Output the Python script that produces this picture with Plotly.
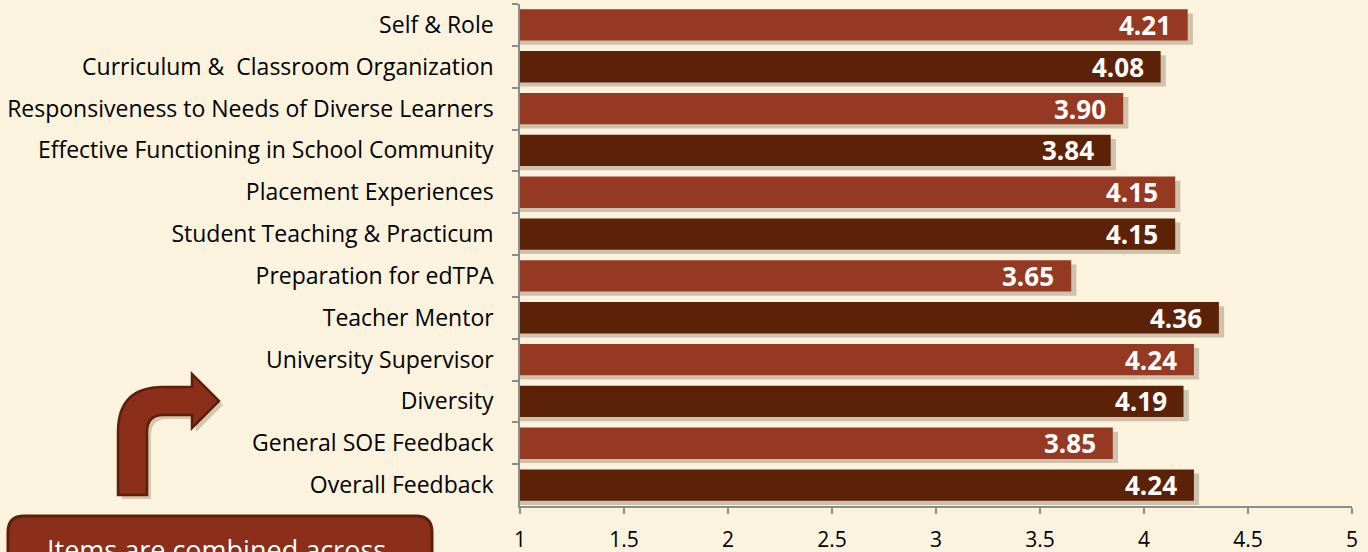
import plotly.graph_objects as go

categories = [
    "Self & Role",
    "Curriculum &\u00a0 Classroom Organization",
    "Responsiveness to Needs of Diverse Learners",
    "Effective Functioning in School Community",
    "Placement Experiences",
    "Student Teaching & Practicum",
    "Preparation for edTPA",
    "Teacher Mentor",
    "University Supervisor",
    "Diversity",
    "General SOE Feedback",
    "Overall Feedback",
]
values = [4.21, 4.08, 3.90, 3.84, 4.15, 4.15, 3.65, 4.36, 4.24, 4.19, 3.85, 4.24]
x_ticks = [1, 1.5, 2, 2.5, 3, 3.5, 4, 4.5, 5]
x_tick_labels = ["1", "1.5", "2", "2.5", "3", "3.5", "4", "4.5", "5"]
note_text = "Items are combined across"

LIGHT = "#963922"
DARK = "#5C2207"
BG = "#FCF3DE"
FONT = "Open Sans"

W, H = 1368, 552
ML, MR, MT, MB = 520, 16, 4, 46
PW, PH = W - ML - MR, H - MT - MB


def px(x):
    return (x - ML) / PW


def py(y):
    return (H - MB - y) / PH


colors = [LIGHT if i % 2 == 0 else DARK for i in range(len(categories))]

fig = go.Figure()
# soft drop shadow
fig.add_trace(go.Bar(
    y=categories, x=[v + 0.025 for v in values], orientation="h",
    marker=dict(color="rgba(90,70,45,0.28)", line=dict(width=0)),
    width=0.75, offset=-0.375 + 0.1, hoverinfo="skip", showlegend=False,
))
fig.add_trace(go.Bar(
    y=categories, x=values, orientation="h",
    marker=dict(color=colors, line=dict(width=0)),
    width=0.75, offset=-0.375, showlegend=False,
))

for c, v in zip(categories, values):
    fig.add_annotation(
        x=v, y=c, xref="x", yref="y", text=f"<b>{v:.2f}</b>",
        showarrow=False, xanchor="right", yanchor="middle", xshift=-15,
        font=dict(family=FONT, size=26, color="white"),
    )

# bent arrow (pixel path converted to paper coords)
arrow_pts = [
    ("M", [(118, 495)]), ("L", [(118, 432)]), ("Q", [(118, 387), (163, 387)]),
    ("L", [(192, 387)]), ("L", [(192, 374)]), ("L", [(219, 401)]),
    ("L", [(192, 428)]), ("L", [(192, 415)]), ("L", [(163, 415)]),
    ("Q", [(147, 415), (147, 432)]), ("L", [(147, 495)]),
]


def make_path(pts, dx=0, dy=0):
    s = ""
    for cmd, ps in pts:
        s += cmd + " " + " ".join(f"{px(a + dx):.5f},{py(b + dy):.5f}" for a, b in ps) + " "
    return s + "Z"


fig.add_shape(type="path", xref="paper", yref="paper", path=make_path(arrow_pts, 4, 4),
              fillcolor="rgba(90,70,45,0.25)", line=dict(width=0), layer="below")
fig.add_shape(type="path", xref="paper", yref="paper", path=make_path(arrow_pts),
              fillcolor="#8B2E1A", line=dict(color="#5C1F08", width=2.5))

# rounded note box
x0, y0, x1, y1, r = 8, 516, 432, 575, 16
box = [
    ("M", [(x0 + r, y0)]), ("L", [(x1 - r, y0)]), ("Q", [(x1, y0), (x1, y0 + r)]),
    ("L", [(x1, y1)]), ("L", [(x0, y1)]), ("L", [(x0, y0 + r)]),
    ("Q", [(x0, y0), (x0 + r, y0)]),
]
fig.add_shape(type="path", xref="paper", yref="paper", path=make_path(box),
              fillcolor="#8B2E1A", line=dict(color="#5C1F08", width=3))
fig.add_annotation(x=px(216), y=py(549), xref="paper", yref="paper", text=note_text,
                   showarrow=False, xanchor="center", yanchor="middle",
                   font=dict(family=FONT, size=27, color="white"))

fig.update_layout(
    width=W, height=H, margin=dict(l=ML, r=MR, t=MT, b=MB, pad=0, autoexpand=False),
    paper_bgcolor=BG, plot_bgcolor=BG, barmode="overlay", bargap=0.25,
    showlegend=False,
    font=dict(family=FONT, color="black"),
)
fig.update_xaxes(
    range=[1, 5], tickvals=x_ticks, ticktext=x_tick_labels, showgrid=False, zeroline=False,
    showline=True, linecolor="#8C8C8C", linewidth=1.5, ticks="outside", ticklen=6,
    tickcolor="#8C8C8C", tickwidth=1.5, tickfont=dict(size=21, color="black"),
    ticklabelstandoff=8, automargin=False,
)
fig.update_yaxes(
    autorange="reversed", showgrid=False, showline=True, linecolor="#8C8C8C", linewidth=1.5,
    ticks="outside", ticklen=6, tickcolor="#8C8C8C", tickwidth=1.5, tickson="boundaries",
    tickfont=dict(size=23, color="black"), ticklabelstandoff=20, automargin=False,
)

fig.write_html(
    "out.html",
    config={"displayModeBar": False},
    post_script="document.body.style.margin='0';document.body.style.background='%s';" % BG,
)
